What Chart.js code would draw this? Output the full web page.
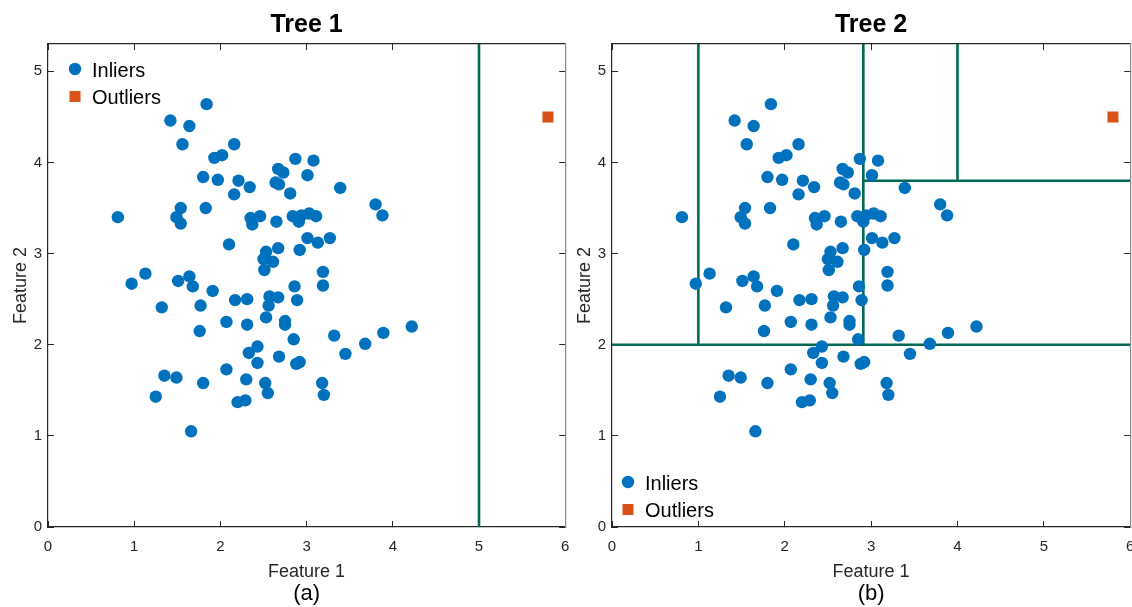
<!DOCTYPE html>
<html>
<head>
<meta charset="utf-8">
<script src="https://cdn.jsdelivr.net/npm/chart.js@4.4.1/dist/chart.umd.min.js"></script>
<style>
  body { margin: 0; background: #fff; }
  .wrap { position: relative; width: 1132px; height: 607px; overflow: hidden; }
  canvas { position: absolute; top: 0; }
</style>
</head>
<body>
<div class="wrap">
  <canvas id="tree1" width="573" height="607" style="left:0px"></canvas>
  <canvas id="tree2" width="568" height="607" style="left:570px"></canvas>
</div>
<script>
// same sample drawn in both panels
var inlierX = [1.84, 1.42, 1.64, 1.56, 2.16, 1.93, 2.02, 2.87, 3.08, 2.67,
               2.73, 1.80, 1.97, 2.21, 3.01, 2.34, 2.64, 2.68, 2.16, 2.81,
               0.81, 1.54, 1.49, 1.54, 1.83, 2.35, 2.37, 2.46, 2.65, 2.84,
               2.91, 2.94, 3.03, 3.11, 2.10, 2.53, 2.67, 2.50, 2.61, 2.51,
               2.92, 3.01, 3.13, 1.13, 0.97, 1.51, 1.64, 1.68, 1.91, 3.39,
               3.80, 3.88, 3.27, 3.19, 3.19, 2.86, 1.32, 1.77, 2.17, 2.31,
               2.57, 2.67, 2.56, 2.89, 1.76, 2.07, 2.31, 2.53, 2.75, 2.75,
               2.85, 2.43, 2.33, 2.43, 2.68, 2.88, 2.92, 2.07, 1.35, 1.49,
               1.80, 2.30, 2.52, 2.55, 1.25, 2.20, 2.29, 1.66, 3.32, 3.45,
               3.68, 3.89, 4.22, 3.18, 3.20];
var inlierY = [4.64, 4.46, 4.40, 4.20, 4.20, 4.05, 4.08, 4.04, 4.02, 3.93,
               3.89, 3.84, 3.81, 3.80, 3.86, 3.73, 3.78, 3.76, 3.65, 3.66,
               3.40, 3.50, 3.40, 3.33, 3.50, 3.39, 3.32, 3.41, 3.35, 3.41,
               3.35, 3.42, 3.44, 3.41, 3.10, 3.02, 3.06, 2.94, 2.91, 2.82,
               3.04, 3.17, 3.12, 2.78, 2.67, 2.70, 2.75, 2.64, 2.59, 3.72,
               3.54, 3.42, 3.17, 2.80, 2.65, 2.64, 2.41, 2.43, 2.49, 2.50,
               2.53, 2.52, 2.43, 2.49, 2.15, 2.25, 2.22, 2.30, 2.26, 2.22,
               2.06, 1.98, 1.91, 1.80, 1.87, 1.79, 1.81, 1.73, 1.66, 1.64,
               1.58, 1.62, 1.58, 1.47, 1.43, 1.37, 1.39, 1.05, 2.10, 1.90,
               2.01, 2.13, 2.20, 1.58, 1.45];
var outlierX = [5.8];
var outlierY = [4.5];

// split segments: [x1, y1, x2, y2]
var tree1Splits = [[5, 0, 5, 5.3]];
var tree2Splits = [[0, 2, 6, 2],
                   [1, 2, 1, 5.3],
                   [2.91, 2, 2.91, 5.3],
                   [2.91, 3.8, 6, 3.8],
                   [4, 3.8, 4, 5.3]];

var xTicks = [0, 1, 2, 3, 4, 5, 6];
var yTicks = [0, 1, 2, 3, 4, 5];

var FONT = '"Liberation Sans", Arial, Helvetica, sans-serif';
var AXIS = '#262626';
var SPLIT = '#006a56';

function pts(xs, ys) {
  return xs.map(function (x, i) { return {x: x, y: ys[i]}; });
}

function noPad(s) {
  s.paddingLeft = 0; s.paddingRight = 0; s.paddingTop = 0; s.paddingBottom = 0;
}

var panelText = {
  id: 'panelText',
  afterDraw: function (chart, args, opts) {
    var ctx = chart.ctx, a = chart.chartArea;
    var cx = (a.left + a.right) / 2;
    ctx.save();
    ctx.textAlign = 'center';
    ctx.textBaseline = 'alphabetic';
    ctx.fillStyle = '#000';
    ctx.font = 'bold 25px ' + FONT;
    ctx.fillText(opts.title, cx, a.top - 12);
    ctx.fillStyle = AXIS;
    ctx.font = '18px ' + FONT;
    ctx.fillText('Feature 1', cx, a.bottom + 50);
    ctx.fillStyle = '#000';
    ctx.font = '22px ' + FONT;
    ctx.fillText(opts.caption, cx, a.bottom + 73);

    ctx.save();
    ctx.translate(a.left - 22, (a.top + a.bottom) / 2);
    ctx.rotate(-Math.PI / 2);
    ctx.fillStyle = AXIS;
    ctx.font = '18px ' + FONT;
    ctx.fillText('Feature 2', 0, 0);
    ctx.restore();

    // legend
    var lx = a.left + opts.legendDx;
    var ly = opts.legendBottom ? a.bottom - opts.legendDy : a.top + opts.legendDy;
    ctx.textAlign = 'left';
    ctx.font = '20px ' + FONT;
    chart.data.datasets.slice(0, 2).forEach(function (ds, i) {
      var y = ly + i * 27.5;
      ctx.fillStyle = ds.backgroundColor;
      if (ds.pointStyle === 'rect') {
        ctx.fillRect(lx - 5.5, y - 5.5, 11, 11);
      } else {
        ctx.beginPath();
        ctx.arc(lx, y, 6.2, 0, 2 * Math.PI);
        ctx.fill();
      }
      ctx.fillStyle = '#000';
      ctx.fillText(ds.label, lx + 17, y + 7.5);
    });
    ctx.restore();
  }
};

function axis(pos, min, max, ticks, fit, showLabels, pad, borderColor) {
  return {
    type: 'linear',
    position: pos,
    min: min,
    max: max,
    afterBuildTicks: function (s) { s.ticks = ticks.map(function (v) { return {value: v}; }); },
    afterFit: function (s) { fit(s); noPad(s); },
    grid: {drawOnChartArea: false, drawTicks: true, tickLength: -6, tickColor: AXIS, tickWidth: 1},
    border: {color: borderColor || AXIS, width: 1.2},
    ticks: {display: showLabels, padding: pad, color: AXIS, autoSkip: false, maxRotation: 0,
            font: {family: FONT, size: 15}}
  };
}

function makePanel(id, splits, plotLeft, padRight, textOpts) {
  var datasets = [
    {label: 'Inliers', data: pts(inlierX, inlierY), backgroundColor: '#0072BD',
     borderWidth: 0, pointRadius: 6.2, pointHoverRadius: 6.2},
    {label: 'Outliers', data: pts(outlierX, outlierY), pointStyle: 'rect', backgroundColor: '#D95319',
     borderWidth: 0, pointRadius: 7.8, pointHoverRadius: 7.8}
  ];
  splits.forEach(function (s) {
    datasets.push({label: 'split', data: [{x: s[0], y: s[1]}, {x: s[2], y: s[3]}],
                   showLine: true, borderColor: SPLIT, borderWidth: 2.6, pointRadius: 0, fill: false});
  });
  return new Chart(document.getElementById(id), {
    type: 'scatter',
    data: {datasets: datasets},
    options: {
      responsive: false,
      animation: false,
      events: [],
      layout: {padding: {left: 0, right: padRight, top: 44, bottom: 0}},
      scales: {
        x: axis('bottom', 0, 6, xTicks, function (s) { s.height = 80; }, true, 17),
        x2: axis('top', 0, 6, xTicks, function (s) { s.height = 0; }, false, 0),
        y: axis('left', 0, 5.3, yTicks, function (s) { s.width = plotLeft; }, true, 12),
        y2: axis('right', 0, 5.3, yTicks, function (s) { s.width = 0; }, false, 0, '#8c8c8c')
      },
      plugins: {
        legend: {display: false},
        tooltip: {enabled: false},
        panelText: textOpts
      }
    },
    plugins: [panelText]
  });
}

makePanel('tree1', tree1Splits, 48, 0,
  {title: 'Tree 1', caption: '(a)', legendDx: 27, legendDy: 25, legendBottom: false});
makePanel('tree2', tree2Splits, 42, 0,
  {title: 'Tree 2', caption: '(b)', legendDx: 16, legendDy: 45, legendBottom: true});
</script>
</body>
</html>
